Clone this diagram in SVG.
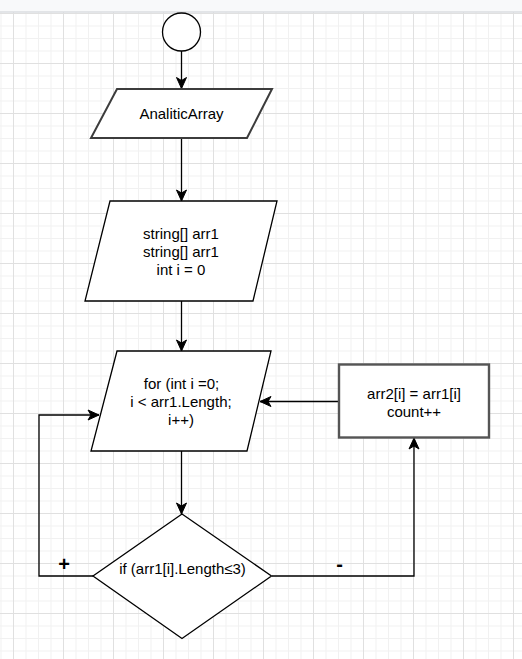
<svg xmlns="http://www.w3.org/2000/svg" width="522" height="659" viewBox="0 0 522 659">
  <defs>
    <pattern id="grid" patternUnits="userSpaceOnUse" x="13" y="13" width="50" height="50">
      <g stroke="#f1f1f1" stroke-width="1" fill="none">
        <line x1="13" y1="0" x2="13" y2="50"/>
        <line x1="25.5" y1="0" x2="25.5" y2="50"/>
        <line x1="38" y1="0" x2="38" y2="50"/>
        <line x1="0" y1="13" x2="50" y2="13"/>
        <line x1="0" y1="25.5" x2="50" y2="25.5"/>
        <line x1="0" y1="38" x2="50" y2="38"/>
      </g>
      <g stroke="#e0e0e0" stroke-width="1" fill="none">
        <line x1="0.5" y1="0" x2="0.5" y2="50"/>
        <line x1="0" y1="0.5" x2="50" y2="0.5"/>
      </g>
    </pattern>
    <marker id="arrow" markerUnits="userSpaceOnUse" markerWidth="14" markerHeight="12" viewBox="-12 -6 14 12" refX="0" refY="0" orient="auto">
      <path d="M0,0 L-11,-5 L-8,0 L-11,5 Z" fill="#000" stroke="#000" stroke-width="1"/>
    </marker>
  </defs>
  <style>
    .shape { fill: #fff; stroke: #000; stroke-width: 1.3; }
    .edge { fill: none; stroke: #000; stroke-width: 1.3; marker-end: url(#arrow); }
    text { font-family: "Liberation Sans", Arial, sans-serif; font-size: 15px; fill: #000; text-anchor: middle; }
    .lbl { font-weight: bold; font-size: 20px; }
  </style>

  <rect x="0" y="0" width="522" height="659" fill="#fff"/>
  <rect x="0" y="12" width="522" height="647" fill="url(#grid)"/>
  <rect x="0" y="0" width="522" height="11.5" fill="#f8f9fa"/>
  <line x1="0" y1="12" x2="522" y2="12" stroke="#dadce0" stroke-width="1.5"/>

  <g id="connectors">
    <line class="edge" x1="181.5" y1="51" x2="181.5" y2="88.5"/>
    <line class="edge" x1="181.5" y1="138" x2="181.5" y2="201"/>
    <line class="edge" x1="181.5" y1="301" x2="181.5" y2="351"/>
    <line class="edge" x1="181.5" y1="451" x2="181.5" y2="514"/>
    <polyline class="edge" points="339,401.5 260,401.5"/>
    <polyline class="edge" points="93,576 39,576 39,415 99,415"/>
    <polyline class="edge" points="272,576 414,576 414,438"/>
    <text class="lbl" x="64" y="571">+</text>
    <text class="lbl" x="339.5" y="571">-</text>
  </g>

  <g id="start">
    <circle class="shape" cx="181.5" cy="32" r="19"/>
  </g>

  <g id="input">
    <polygon points="117,89 272,89 247,138 91,138" fill="#fff" stroke="#3c3c3c" stroke-width="2"/>
    <text x="181.5" y="119">AnaliticArray</text>
  </g>

  <g id="declare">
    <polygon class="shape" points="110,201 277,201 253,301 85,301"/>
    <text x="181" y="238.5">string[] arr1</text>
    <text x="181" y="256.5">string[] arr1</text>
    <text x="181" y="274.5">int i = 0</text>
  </g>

  <g id="loop">
    <polygon class="shape" points="117,351 271,351 247,451 91,451"/>
    <text x="181.5" y="388.5">for (int i =0;</text>
    <text x="181" y="406.5">i &lt; arr1.Length;</text>
    <text x="181" y="424.5">i++)</text>
  </g>

  <g id="assign">
    <rect x="339" y="364.5" width="150" height="73" fill="#fff" stroke="#555" stroke-width="2.4"/>
    <text x="414" y="398.5">arr2[i] = arr1[i]</text>
    <text x="414" y="416.5">count++</text>
  </g>

  <g id="condition">
    <polygon class="shape" points="182,514 271.5,576 182,638.5 93,576"/>
    <text x="182.5" y="574">if (arr1[i].Length≤3)</text>
  </g>
</svg>
